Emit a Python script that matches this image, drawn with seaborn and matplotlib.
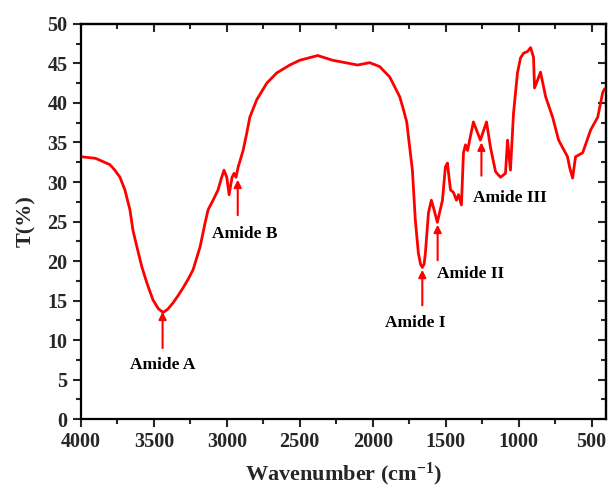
import matplotlib
matplotlib.use("Agg")
import numpy as np
import pandas as pd
import seaborn as sns
import matplotlib.pyplot as plt
from matplotlib.ticker import MultipleLocator

# FTIR spectrum
wavenumber = [4000, 3900, 3801, 3767, 3732, 3698, 3664, 3643, 3616, 3581, 3547,
              3506, 3470, 3437, 3405, 3369, 3335, 3300, 3265, 3231, 3183, 3149,
              3128, 3094, 3060, 3035, 3019, 3000, 2984, 2964, 2950, 2937, 2922,
              2888, 2863, 2842, 2795, 2726, 2658, 2568, 2500, 2377, 2274, 2103,
              2021, 1952, 1884, 1815, 1790, 1767, 1728, 1708, 1687, 1672, 1660,
              1648, 1639, 1618, 1598, 1584, 1557, 1522, 1502, 1488, 1467, 1447,
              1426, 1412, 1392, 1378, 1364, 1350, 1310, 1262, 1220, 1193, 1158,
              1124, 1090, 1076, 1056, 1035, 1008, 987, 966, 940, 918, 898, 891,
              870, 850, 815, 767, 726, 665, 651, 630, 610, 561, 506, 458, 424, 410]
transmittance = [33.2, 33.0, 32.2, 31.5, 30.6, 29.0, 26.5, 23.9, 21.8, 19.2, 17.2,
                 15.1, 14.0, 13.5, 13.9, 14.7, 15.6, 16.6, 17.7, 18.9, 21.8, 24.8,
                 26.5, 27.7, 29.0, 30.6, 31.5, 30.6, 28.4, 30.6, 31.1, 30.6, 31.9,
                 34.0, 36.2, 38.2, 40.4, 42.5, 43.8, 44.8, 45.4, 46.0, 45.4, 44.8,
                 45.1, 44.6, 43.3, 40.8, 39.2, 37.6, 31.5, 25.2, 21.0, 19.6, 19.2,
                 19.6, 21.0, 26.1, 27.7, 26.8, 24.9, 27.7, 31.9, 32.4, 29.0, 28.7,
                 27.7, 28.4, 27.1, 33.7, 34.7, 34.0, 37.6, 35.3, 37.6, 34.4, 31.3,
                 30.6, 31.1, 35.3, 31.5, 38.7, 43.8, 45.7, 46.3, 46.5, 47.0, 45.8,
                 41.9, 42.9, 43.9, 40.8, 38.2, 35.3, 33.2, 31.9, 30.5, 33.2, 33.7,
                 36.6, 38.2, 41.3, 41.8]

# band labels: text, peak position, arrow tail, text position
band_names = ["Amide A", "Amide B", "Amide I", "Amide II", "Amide III"]
band_peak = [(3440, 13.6), (2925, 30.3), (1660, 18.9), (1555, 24.6), (1255, 35.0)]
band_tail = [(3440, 9.0), (2925, 25.8), (1660, 14.4), (1555, 20.1), (1255, 30.8)]
band_text = [(3440, 6.8), (2880, 23.4), (1710, 12.2), (1330, 18.4), (1060, 28.0)]

df = pd.DataFrame({"wn": wavenumber, "T": transmittance})

sns.set_style("ticks")
plt.rcParams["font.family"] = ["Liberation Serif", "DejaVu Serif"]
plt.rcParams["font.weight"] = "bold"
plt.rcParams["mathtext.fontset"] = "custom"
plt.rcParams["mathtext.rm"] = "Liberation Serif:bold"
plt.rcParams["mathtext.default"] = "rm"

fig = plt.figure(figsize=(6.08, 4.88), dpi=100)
ax = fig.add_axes([0.133, 0.141, 0.864, 0.810])

sns.lineplot(data=df, x="wn", y="T", sort=False, color="red", lw=2.0, ax=ax)

for name, peak, tail, txt in zip(band_names, band_peak, band_tail, band_text):
    ax.annotate("", xy=peak, xytext=tail,
                arrowprops=dict(arrowstyle="-|>", color="red", lw=1.5,
                                mutation_scale=11, shrinkA=0, shrinkB=0))
    ax.text(txt[0], txt[1], name, ha="center", va="center",
            fontsize=12.5, fontweight="bold", color="black")

ax.set_xlim(4000, 400)
ax.set_ylim(0, 50)


def set_locators(axis_obj, major, minor):
    axis_obj.set_major_locator(MultipleLocator(major))
    axis_obj.set_minor_locator(MultipleLocator(minor))


set_locators(ax.xaxis, 500, 250)
set_locators(ax.yaxis, 5, 2.5)

for s in ax.spines.values():
    s.set_linewidth(1.6)
    s.set_color("black")

ax.tick_params(which="both", direction="out", width=1.5, labelsize=14.5)
ax.tick_params(which="major", length=6)
ax.tick_params(which="minor", length=3.5)

# mirrored ticks pointing inwards on top and right
top = ax.secondary_xaxis("top")
set_locators(top.xaxis, 500, 250)
right = ax.secondary_yaxis("right")
set_locators(right.yaxis, 5, 2.5)
for sec in (top, right):
    sec.tick_params(which="both", direction="in", width=1.5,
                    labeltop=False, labelright=False)
    sec.tick_params(which="major", length=6)
    sec.tick_params(which="minor", length=3.5)
    for s in sec.spines.values():
        s.set_linewidth(1.6)

for lab in ax.get_xticklabels() + ax.get_yticklabels():
    lab.set_fontweight("bold")

ax.set_xlabel(r"Wavenumber (cm$^{-1}$)", fontsize=16, fontweight="bold", labelpad=6)
ax.set_ylabel("T(%)", fontsize=16, fontweight="bold", labelpad=8)

fig.savefig("out.png", dpi=100)
